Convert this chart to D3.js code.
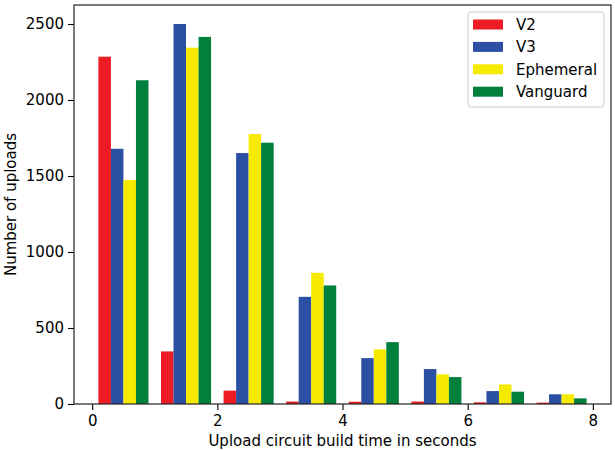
<!DOCTYPE html>
<html lang="en">
<head>
<meta charset="UTF-8">
<title>Upload circuit build time</title>
<script src="https://d3js.org/d3.v7.min.js"></script>
<style>
  body { margin: 0; background: #fff; }
  svg text { font-family: "DejaVu Sans", sans-serif; fill: #000; }
</style>
</head>
<body>
<script>

// bin edges (seconds) and counts per series
var binEdges = [0, 1, 2, 3, 4, 5, 6, 7, 8];
var seriesNames = ["V2", "V3", "Ephemeral", "Vanguard"];
var seriesColors = ["#ed1c24", "#2b4fa3", "#f5ea00", "#007f3d"];
var v2 = [2285, 346, 88, 16, 15, 16, 11, 9];
var v3 = [1679, 2500, 1651, 705, 302, 230, 85, 64];
var ephemeral = [1474, 2344, 1776, 863, 359, 195, 129, 64];
var vanguard = [2130, 2415, 1719, 780, 407, 177, 81, 37];
var xTicks = [0, 2, 4, 6, 8];
var yTicks = [0, 500, 1000, 1500, 2000, 2500];

var series = [v2, v3, ephemeral, vanguard];

var W = 615, H = 450;
var margin = {top: 5, right: 4, bottom: 46, left: 74};
var width = W - margin.left - margin.right,
    height = H - margin.top - margin.bottom;

var svg = d3.select("body").append("svg")
    .attr("width", W)
    .attr("height", H);

var g = svg.append("g")
    .attr("transform", "translate(" + margin.left + "," + margin.top + ")");

// matplotlib style: bars cover 0.1..7.9, 5% margins
var x = d3.scaleLinear().domain([-0.29, 8.29]).range([0, width]);
var y = d3.scaleLinear().domain([0, 2625]).range([height, 0]);

// hist layout: 80% of each bin split between the series
var barW = 0.8 / series.length;

series.forEach(function(vals, si) {
  g.selectAll(".bar" + si)
    .data(vals)
    .enter().append("rect")
    .attr("class", "bar" + si)
    .attr("x", function(d, i) { return x(binEdges[i] + 0.1 + si * barW); })
    .attr("width", function(d, i) { return x(binEdges[i] + 0.1 + (si + 1) * barW) - x(binEdges[i] + 0.1 + si * barW); })
    .attr("y", function(d) { return y(d); })
    .attr("height", function(d) { return height - y(d); })
    .style("fill", seriesColors[si]);
});

// axes
var xAxis = g.append("g")
    .attr("transform", "translate(0," + height + ")")
    .call(d3.axisBottom(x).tickValues(xTicks).tickFormat(d3.format("d")).tickSize(6).tickPadding(5));
var yAxis = g.append("g")
    .call(d3.axisLeft(y).tickValues(yTicks).tickFormat(d3.format("d")).tickSize(6).tickPadding(4));

[xAxis, yAxis].forEach(function(a) {
  a.selectAll("text").style("font-size", "15px");
  a.select(".domain").remove();
  a.selectAll("line").attr("stroke", "#000").attr("stroke-width", 1.1);
});

// frame
g.append("rect")
  .attr("x", 0).attr("y", 0)
  .attr("width", width).attr("height", height)
  .style("fill", "none")
  .style("stroke", "#222")
  .style("stroke-width", 1.2);

// axis labels
svg.append("text")
  .attr("x", margin.left + x(4))
  .attr("y", 446)
  .attr("text-anchor", "middle")
  .style("font-size", "15px")
  .text("Upload circuit build time in seconds");

svg.append("text")
  .attr("transform", "translate(16," + (margin.top + height / 2) + ") rotate(-90)")
  .attr("text-anchor", "middle")
  .style("font-size", "15px")
  .text("Number of uploads");

// legend
var legend = svg.append("g").attr("transform", "translate(468,12)");
legend.append("rect")
  .attr("width", 136).attr("height", 95)
  .attr("rx", 3)
  .style("fill", "#fff").style("fill-opacity", 0.8)
  .style("stroke", "#ccc");

seriesNames.forEach(function(name, i) {
  var row = legend.append("g").attr("transform", "translate(0," + (12.5 + i * 22.4) + ")");
  row.append("rect")
    .attr("x", 5).attr("y", -5)
    .attr("width", 30).attr("height", 10)
    .style("fill", seriesColors[i]);
  row.append("text")
    .attr("x", 48).attr("y", 5.5)
    .style("font-size", "15px")
    .text(name);
});

</script>
</body>
</html>
